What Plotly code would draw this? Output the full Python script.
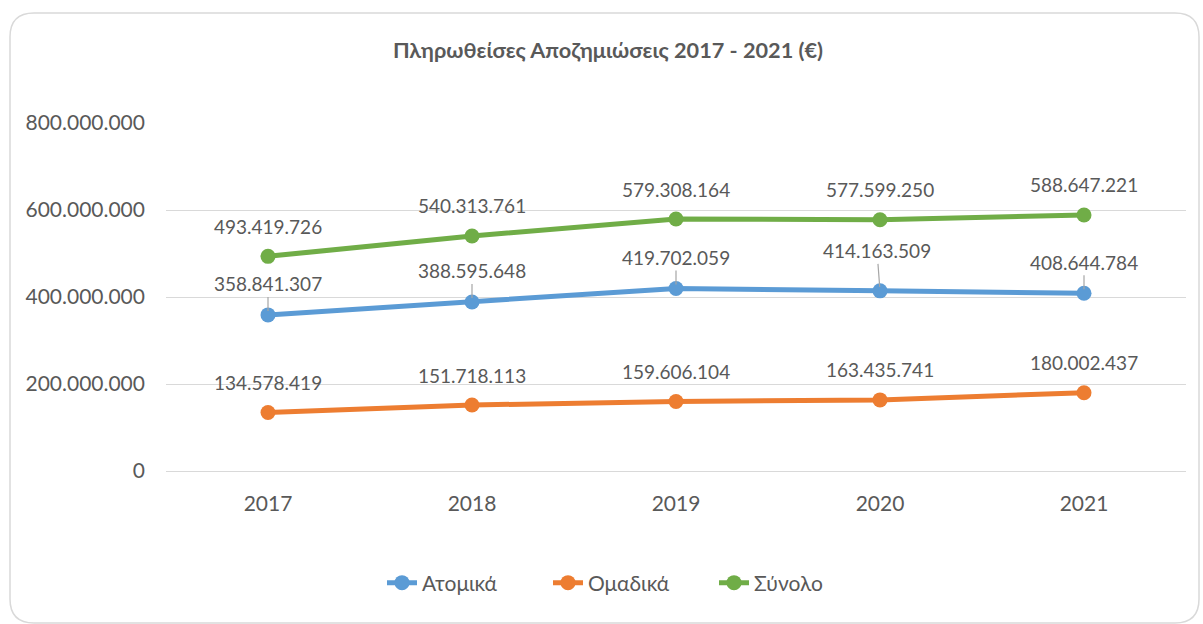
import plotly.graph_objects as go

years = ["2017", "2018", "2019", "2020", "2021"]
atomika = [358841307, 388595648, 419702059, 414163509, 408644784]
omadika = [134578419, 151718113, 159606104, 163435741, 180002437]
synolo = [493419726, 540313761, 579308164, 577599250, 588647221]
series_names = ["Ατομικά", "Ομαδικά", "Σύνολο"]
y_ticks = [0, 200000000, 400000000, 600000000, 800000000]
title_text = "<b>Πληρωθείσες Αποζημιώσεις 2017 - 2021 (€)</b>"

def fmt(v):
    return f"{v:,}".replace(",", ".")

colors = ["#5B9BD5", "#ED7D31", "#70AD47"]
FONT = "Lato"
TXT = "#595959"

fig = go.Figure()
for name, vals, col in zip(series_names, [atomika, omadika, synolo], colors):
    fig.add_trace(go.Scatter(
        x=years, y=vals, name=name, mode="lines+markers",
        line=dict(color=col, width=5),
        marker=dict(color=col, size=15),
        hoverinfo="skip",
    ))

annotations = []
# Ατομικά labels with leader lines
for i, v in enumerate(atomika):
    annotations.append(dict(
        x=i, y=v, xref="x", yref="y", text=fmt(v),
        showarrow=True, arrowhead=0, arrowwidth=1.2, arrowcolor="#A6A6A6",
        ax=-3 if i == 3 else 0, ay=-40 if i == 3 else -31, standoff=4,
        font=dict(family=FONT, size=19, color=TXT),
    ))
for vals in (omadika, synolo):
    for i, v in enumerate(vals):
        annotations.append(dict(
            x=i, y=v, xref="x", yref="y", text=fmt(v),
            showarrow=False, yshift=30,
            font=dict(family=FONT, size=19, color=TXT),
        ))

# rounded chart border (pixel -> paper conversion)
X0, W, YB, H = 166, 1020, 471, 348
def px(x):
    return (x - X0) / W
def py(y):
    return (YB - y) / H
l, t, r, b, rad = 10, 13, 1199, 623, 24
path = (f"M {px(l+rad)} {py(t)} L {px(r-rad)} {py(t)} Q {px(r)} {py(t)} {px(r)} {py(t+rad)} "
        f"L {px(r)} {py(b-rad)} Q {px(r)} {py(b)} {px(r-rad)} {py(b)} "
        f"L {px(l+rad)} {py(b)} Q {px(l)} {py(b)} {px(l)} {py(b-rad)} "
        f"L {px(l)} {py(t+rad)} Q {px(l)} {py(t)} {px(l+rad)} {py(t)} Z")

fig.update_layout(
    width=1203, height=624,
    margin=dict(l=X0, r=1203 - X0 - W, t=YB - H, b=624 - YB),
    paper_bgcolor="white", plot_bgcolor="white",
    title=dict(text=title_text, x=608 / 1203, xref="container", xanchor="center",
               y=1 - 50 / 624, yref="container", yanchor="middle",
               font=dict(family=FONT, size=21.7, color=TXT)),
    xaxis=dict(type="category", range=[-0.5, 4.5], showgrid=False,
               showline=False, ticks="", zeroline=False, ticklabelstandoff=18,
               tickfont=dict(family=FONT, size=21, color=TXT)),
    yaxis=dict(range=[0, 800000000], tickvals=y_ticks,
               ticktext=[fmt(v) for v in y_ticks],
               showgrid=True, gridcolor="#D9D9D9", gridwidth=1.3,
               zeroline=True, zerolinecolor="#D9D9D9", zerolinewidth=1.3,
               showline=False, ticks="", ticklabelstandoff=20,
               tickfont=dict(family=FONT, size=21, color=TXT)),
    legend=dict(orientation="h", x=px(382), xanchor="left",
                y=py(583), yanchor="middle",
                font=dict(family=FONT, size=21, color=TXT),
                entrywidth=121, entrywidthmode="pixels",
                itemwidth=30, traceorder="normal"),
    annotations=annotations,
    shapes=[dict(type="path", path=path, xref="paper", yref="paper",
                 line=dict(color="#D9D9D9", width=1.5), layer="below")],
    showlegend=True,
)

fig.write_html("out.html", config={"displayModeBar": False},
               post_script="document.body.style.margin='0';")
